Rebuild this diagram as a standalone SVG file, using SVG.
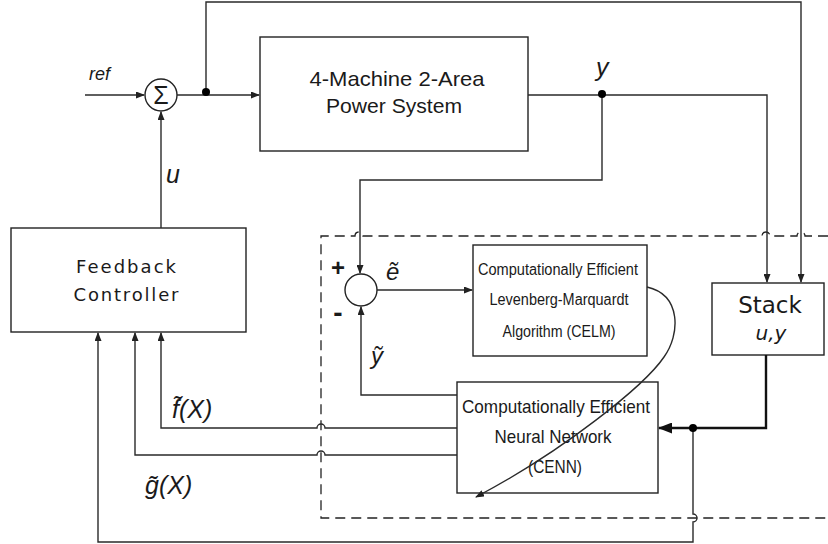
<svg xmlns="http://www.w3.org/2000/svg" width="828" height="544" viewBox="0 0 828 544">
<defs>
<marker id="arr" markerWidth="9" markerHeight="7" refX="8" refY="3.5" orient="auto" markerUnits="userSpaceOnUse">
<path d="M0,0 L9,3.5 L0,7 z" fill="#222"/>
</marker>
<marker id="arrBig" markerWidth="14" markerHeight="11" refX="13" refY="5.5" orient="auto" markerUnits="userSpaceOnUse">
<path d="M0,0 L14,5.5 L0,11 z" fill="#111"/>
</marker>
</defs>
<style>
.box{fill:#fff;stroke:#222;stroke-width:1.4}
.ln{fill:none;stroke:#2a2a2a;stroke-width:1.4}
.thick{fill:none;stroke:#111;stroke-width:2.4}
.dash{fill:none;stroke:#222;stroke-width:1.3;stroke-dasharray:10 6}
.t{font-family:"Liberation Sans",Arial,sans-serif;fill:#1a1a1a;text-anchor:middle}
.d{font-family:"DejaVu Sans",sans-serif;fill:#1a1a1a;text-anchor:middle}
.i{font-family:"Liberation Sans",Arial,sans-serif;font-style:italic;fill:#1a1a1a}
.dot{fill:#000}
</style>
<rect width="828" height="544" fill="#fff"/>

<g id="boundary">
<path class="dash" d="M828,236 H805 A4,4 0 0 0 797,236 H770 A4,4 0 0 0 762,236 H363 A4,4 0 0 0 355,236 H321 V518 H828"/>
</g>

<g id="sum">
<circle cx="161" cy="95" r="16" fill="#fff" stroke="#222" stroke-width="1.4"/>
<text class="t" x="161" y="104" font-size="25">Σ</text>
</g>

<g id="error-sum">
<circle cx="361" cy="290" r="16" fill="#fff" stroke="#222" stroke-width="1.4"/>
<text class="t" x="338" y="276" font-size="24" font-weight="bold">+</text>
<text class="t" x="338" y="322" font-size="28" font-weight="bold">-</text>
</g>

<g id="power-system">
<rect class="box" x="260" y="37" width="268" height="114"/>
<text class="t" x="397" y="86" font-size="21" textLength="175" lengthAdjust="spacingAndGlyphs">4-Machine 2-Area</text>
<text class="t" x="394" y="113" font-size="21" textLength="136" lengthAdjust="spacingAndGlyphs">Power System</text>
</g>

<g id="feedback-controller">
<rect class="box" x="11" y="228" width="235" height="104"/>
<text class="d" x="126" y="273" font-size="18" textLength="100" lengthAdjust="spacing">Feedback</text>
<text class="d" x="126" y="301" font-size="18" textLength="105" lengthAdjust="spacing">Controller</text>
</g>

<g id="celm">
<rect class="box" x="473" y="245" width="174" height="111"/>
<text class="t" x="558" y="275" font-size="16" textLength="160" lengthAdjust="spacingAndGlyphs">Computationally Efficient</text>
<text class="t" x="559" y="305" font-size="16" textLength="139" lengthAdjust="spacingAndGlyphs">Levenberg-Marquardt</text>
<text class="t" x="559" y="337" font-size="16" textLength="113" lengthAdjust="spacingAndGlyphs">Algorithm (CELM)</text>
</g>

<g id="cenn">
<rect class="box" x="457" y="382" width="201" height="111"/>
<text class="t" x="556" y="413" font-size="19" textLength="188" lengthAdjust="spacingAndGlyphs">Computationally Efficient</text>
<text class="t" x="553" y="443" font-size="19" textLength="117" lengthAdjust="spacingAndGlyphs">Neural Network</text>
<text class="t" x="555" y="473" font-size="19" textLength="54" lengthAdjust="spacingAndGlyphs">(CENN)</text>
</g>

<g id="stack">
<rect class="box" x="712" y="283" width="112" height="72"/>
<text class="d" x="770" y="313" font-size="23">Stack</text>
<text class="d" x="771" y="340" font-size="20" font-style="italic">u,y</text>
</g>

<g id="connectors">
<path class="ln" d="M85,95 H144" marker-end="url(#arr)"/>
<path class="ln" d="M177,95 H259" marker-end="url(#arr)"/>
<path class="ln" d="M206,92 V2 H801 V282" marker-end="url(#arr)"/>
<path class="ln" d="M528,95 H767 V282" marker-end="url(#arr)"/>
<path class="ln" d="M602,95 V180 H360 V273" marker-end="url(#arr)"/>
<path class="ln" d="M161,228 V112" marker-end="url(#arr)"/>
<path class="ln" d="M377,290 H472" marker-end="url(#arr)"/>
<path class="ln" d="M457,395 H361 V307" marker-end="url(#arr)"/>
<path class="ln" d="M457,428 H325 A4,4 0 0 0 317,428 H161 V333" marker-end="url(#arr)"/>
<path class="ln" d="M457,455 H325 A4,4 0 0 0 317,455 H135 V333" marker-end="url(#arr)"/>
<path class="ln" d="M693,428 V514 A4,4 0 0 1 693,522 V542 H98 V333" marker-end="url(#arr)"/>
<path class="thick" d="M766,355 V428 H659" marker-end="url(#arrBig)"/>
<path class="ln" d="M647,287 C682,295 680,335 664,357 C645,385 565,450 476,497" marker-end="url(#arr)"/>
<circle class="dot" cx="206" cy="92" r="4"/>
<circle class="dot" cx="602" cy="94" r="4"/>
<circle class="dot" cx="693" cy="428" r="4"/>
</g>

<g id="labels">
<text class="i" x="89" y="80" font-size="18">ref</text>
<text class="i" x="166" y="183" font-size="25">u</text>
<text class="i" x="596" y="76" font-size="25">y</text>
<text class="i" x="386" y="280" font-size="24">ẽ</text>
<text class="i" x="371" y="364" font-size="24">ỹ</text>
<text class="i" x="172" y="418" font-size="25">f̃(X)</text>
<text class="i" x="145" y="494" font-size="25">g̃(X)</text>
</g>
</svg>
